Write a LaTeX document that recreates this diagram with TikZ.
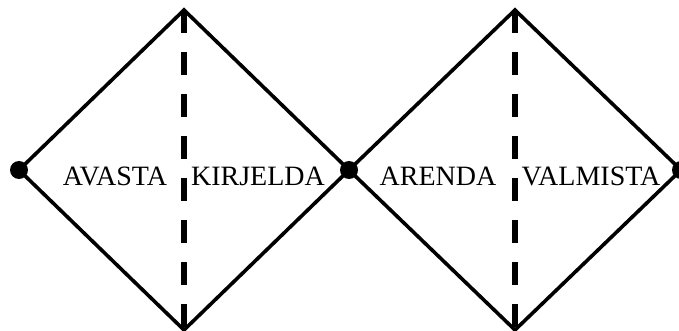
\documentclass[tikz,border=0pt]{standalone}
\usepackage{fontspec}
\setmainfont{Liberation Serif}
\usepackage{tikz}
\usetikzlibrary{
  positioning,
  calc
}
\tikzset{
  vtx/.style={circle, fill=black, inner sep=0pt, minimum size=18pt},
  edge/.style={line width=3.6pt, black, line join=miter},
  split/.style={line width=5.5pt, black, dash pattern=on 23pt off 19pt},
  phase/.style={font=\fontsize{28}{32}\selectfont, inner sep=0pt}
}

\begin{document}
\begin{tikzpicture}[x=1pt, y=-1pt]
  \useasboundingbox (0,0) rectangle (679,331);
  % corners of the two diamonds
  \node[vtx] (v1) at (19,170) {};
  \node[vtx] (v2) at (349,170) {};
  \node[vtx] (v3) at (681,170) {};
  \coordinate (t1) at (184,10);
  \coordinate (b1) at (184,331);
  \coordinate (t2) at (515,10);
  \coordinate (b2) at (515,331);
  % dashed splits
  \draw[split] (t1) -- (b1);
  \draw[split] (t2) -- (b2);
  % diamonds
  \draw[edge] (v1.center) -- (t1) -- (v2.center) -- ($(b1)+(0,-1)$) -- cycle;
  \draw[edge] (v2.center) -- (t2) -- (v3.center) -- ($(b2)+(0,-1)$) -- cycle;
  % labels
  \node[phase] (avasta) at (115,176) {AVASTA};
  \node[phase] (kirjelda) at (258,176) {KIRJELDA};
  \node[phase] (arenda) at (438,176) {ARENDA};
  \node[phase] (valmista) at (591,176) {VALMISTA};
\end{tikzpicture}
\end{document}
